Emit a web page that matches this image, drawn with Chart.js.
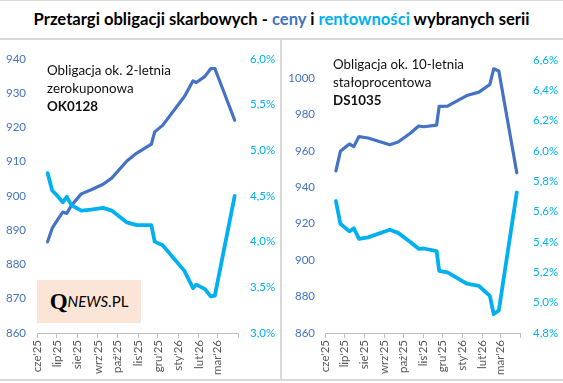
<!DOCTYPE html>
<html><head><meta charset="utf-8">
<script src="https://cdn.jsdelivr.net/npm/chart.js@4.4.1/dist/chart.umd.min.js"></script>
<style>
html,body{margin:0;padding:0;background:#fff;}
#wrap{position:relative;width:563px;height:383px;overflow:hidden;font-family:Lato,'Open Sans',sans-serif;background:#fff;}
.ln{position:absolute;background:#D9D9D9;}
#title{position:absolute;left:0;width:563px;top:8px;text-align:center;font-weight:bold;color:#000;white-space:nowrap;line-height:22px;}
.note{position:absolute;color:#111;line-height:18px;white-space:nowrap;font-family:Lato,sans-serif;}
.box{position:absolute;}
.logo{position:absolute;left:37px;top:280px;width:104px;height:43px;background:#FBE5D6;display:flex;align-items:center;justify-content:center;color:#000;white-space:nowrap;}
</style></head>
<body>
<div id="wrap">
  <div class="ln" style="left:0;top:0;width:563px;height:1px;"></div>
  <div id="title">Przetargi obligacji skarbowych - <span style="color:#4472C4">ceny</span> i <span style="color:#00B0F0">rentowności</span> wybranych serii</div>
  <div class="ln" style="left:0;top:38px;width:563px;height:2px;"></div>
  <div class="ln" style="left:280px;top:40px;width:2px;height:340px;"></div>
  <div class="ln" style="left:0;top:379px;width:563px;height:2px;"></div>
  <div class="box" style="left:0;top:40px;width:280px;height:340px;"><canvas id="c1" width="280" height="340"></canvas></div>
  <div class="box" style="left:282px;top:40px;width:281px;height:340px;"><canvas id="c2" width="281" height="340"></canvas></div>
  <div class="note" id="n1" style="left:47px;top:61px;">Obligacja ok. 2-letnia<br>zerokuponowa<br><b>OK0128</b></div>
  <div class="note" id="n2" style="left:333px;top:55px;">Obligacja ok. 10-letnia<br>stałoprocentowa<br><b>DS1035</b></div>
  <div class="logo"><span style="font-family:'Liberation Serif',serif;font-weight:bold;font-size:23px;line-height:23px;">Q</span><span style="font-style:italic;font-size:15px;line-height:15px;">NEWS</span><span style="font-size:15px;line-height:15px;">.PL</span></div>
</div>
<script>
// ---- data ----
const monthStarts = ['2025-06-01','2025-07-01','2025-08-01','2025-09-01','2025-10-01','2025-11-01','2025-12-01','2026-01-01','2026-02-01','2026-03-01','2026-04-01'];
const monthLabels = ["cze'25","lip'25","sie'25","wrz'25","paź'25","lis'25","gru'25","sty'26","lut'26","mar'26",""];

const ok0128Dates = ['2025-06-17','2025-06-24','2025-07-02','2025-07-10','2025-07-16','2025-07-23','2025-08-07','2025-08-22','2025-09-09','2025-09-22','2025-10-15','2025-10-30','2025-11-21','2025-11-26','2025-12-08','2026-01-10','2026-01-23','2026-01-28','2026-02-10','2026-02-19','2026-02-25','2026-03-27'];
const ok0128Price = [886.6,890.6,893.0,895.3,894.9,897.2,900.6,901.8,903.4,905.2,910.2,912.5,915.1,918.7,920.6,929.0,933.6,933.1,934.9,937.2,937.2,922.1];
const ok0128Yield = [4.75,4.56,4.50,4.43,4.49,4.40,4.34,4.35,4.37,4.34,4.21,4.18,4.18,4.00,3.96,3.68,3.49,3.53,3.48,3.40,3.41,4.50];

const ds1035Dates = ['2025-06-18','2025-06-25','2025-07-09','2025-07-16','2025-07-24','2025-08-07','2025-09-10','2025-09-23','2025-10-12','2025-10-25','2025-11-02','2025-11-22','2025-11-26','2025-12-09','2026-01-08','2026-01-27','2026-02-13','2026-02-19','2026-02-27','2026-03-27'];
const ds1035Price = [949.0,959.8,963.8,962.4,967.9,967.1,963.4,964.9,969.7,973.7,973.3,974.2,984.5,984.6,990.4,992.3,996.5,1005.1,1003.9,948.0];
const ds1035Yield = [5.67,5.52,5.47,5.49,5.42,5.43,5.48,5.46,5.40,5.355,5.357,5.34,5.21,5.20,5.125,5.11,5.045,4.925,4.948,5.727];

const ok0128PriceAxis = [860, 940, 10];
const ok0128YieldAxis = [3.0, 6.0, 0.5];
const ds1035PriceAxis = [860, 1010, 20];
const ds1035YieldAxis = [4.8, 6.6, 0.2];

// ---- fit text widths ----
const mc = document.createElement('canvas').getContext('2d');
function fitSize(text, target, font){ mc.font = font.replace('SZ','100px'); return 100*target/mc.measureText(text).width; }
document.getElementById('title').style.fontSize = fitSize('Przetargi obligacji skarbowych - ceny i rentowności wybranych serii', 497, 'bold SZ Lato') + 'px';
document.getElementById('n1').style.fontSize = fitSize('Obligacja ok. 2-letnia', 124, 'SZ Lato') + 'px';
document.getElementById('n2').style.fontSize = fitSize('Obligacja ok. 10-letnia', 131, 'SZ Lato') + 'px';

const base = Date.UTC(2025,5,1);
function dayOf(s){ const p = s.split('-').map(Number); return (Date.UTC(p[0],p[1]-1,p[2]) - base)/86400000; }
const tickFont = {family:'Lato', size:11.5};
const PRICE = '#4472C4', YLD = '#00B0F0';
function pct(v){ return v.toFixed(1).replace('.',',') + '%'; }

function makeChart(id, dates, price, yld, pAxis, yAxis, lay){
  const xs = dates.map(dayOf);
  new Chart(document.getElementById(id), {
    type:'line',
    data:{datasets:[
      {data: xs.map((x,i)=>({x, y: yld[i]})), yAxisID:'y1', borderColor:YLD, borderWidth:3.8, pointRadius:0, tension:0, borderJoinStyle:'round', borderCapStyle:'round', order:0},
      {data: xs.map((x,i)=>({x, y: price[i]})), yAxisID:'y', borderColor:PRICE, borderWidth:3.2, pointRadius:0, tension:0, borderJoinStyle:'round', borderCapStyle:'round', order:1}
    ]},
    options:{
      responsive:false, animation:false, devicePixelRatio:1,
      layout:{padding:{top:lay.top, left:0, right:0, bottom:0}},
      plugins:{legend:{display:false}, tooltip:{enabled:false}},
      scales:{
        x:{type:'linear', min:dayOf(monthStarts[0]), max:dayOf(monthStarts[monthStarts.length-1]),
          afterBuildTicks:(s)=>{ s.ticks = monthStarts.map(m=>({value:dayOf(m)})); },
          ticks:{autoSkip:false, maxRotation:90, minRotation:90, padding:2, color:'#595959', font:tickFont, callback:(v,i)=>monthLabels[i]},
          grid:{drawOnChartArea:false, drawTicks:true, tickLength:5, color:'#BFBFBF', lineWidth:1},
          border:{display:true, color:'#BFBFBF', width:1},
          afterFit:(s)=>{ s.height = lay.xh; }
        },
        y:{type:'linear', position:'left', min:pAxis[0], max:pAxis[1],
          ticks:{stepSize:pAxis[2], includeBounds:false, color:PRICE, padding:lay.lp, font:tickFont, callback:(v)=>String(v)},
          grid:{display:false, drawTicks:false}, border:{display:false},
          afterFit:(s)=>{ s.width = lay.lw; }
        },
        y1:{type:'linear', position:'right', min:yAxis[0], max:yAxis[1],
          ticks:{stepSize:yAxis[2], color:YLD, padding:lay.rp, font:tickFont, callback:(v)=>pct(v)},
          grid:{display:false, drawTicks:false}, border:{display:false},
          afterFit:(s)=>{ s.width = lay.rw; }
        }
      }
    }
  });
}
makeChart('c1', ok0128Dates, ok0128Price, ok0128Yield, ok0128PriceAxis, ok0128YieldAxis, {top:12, xh:47, lw:37, rw:42, lp:11, rp:12});
makeChart('c2', ds1035Dates, ds1035Price, ds1035Yield, ds1035PriceAxis, ds1035YieldAxis, {top:13, xh:47, lw:43, rw:43, lp:10, rp:13});
</script>
</body></html>
